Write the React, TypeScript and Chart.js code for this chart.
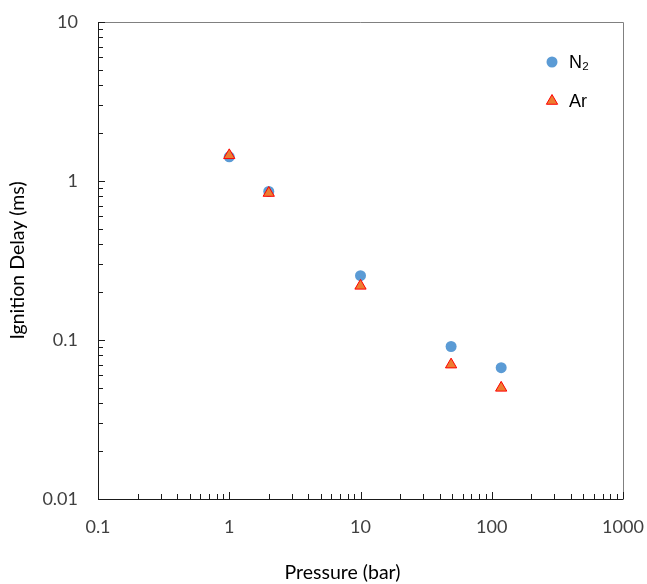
import { useEffect, useRef } from 'react';
import { Chart, registerables } from 'chart.js';

Chart.register(...registerables);

const pressureN2 = [1, 2, 10, 49, 118];
const delayN2 = [1.42, 0.86, 0.254, 0.091, 0.067];
const pressureAr = [1, 2, 10, 49, 118];
const delayAr = [1.45, 0.84, 0.219, 0.07, 0.05];
const xTickValues = [0.1, 1, 10, 100, 1000];
const xTickLabels = ['0.1', '1', '10', '100', '1000'];
const yTickValues = [0.01, 0.1, 1, 10];
const yTickLabels = ['0.01', '0.1', '1', '10'];
const seriesNames = ['N₂', 'Ar'];
const xTitle = 'Pressure (bar)';
const yTitle = 'Ignition Delay (ms)';

const N2_COLOR = '#5B9BD5';
const AR_FILL = '#ED7D31';
const AR_BORDER = '#FF0000';
const FAMILY = 'Lato, "Open Sans", sans-serif';
const TICK_FONT = { family: FAMILY, size: 18 };
const TITLE_FONT = { family: FAMILY, size: 19.5 };

function minorValues(min: number, max: number) {
  const out: { v: number; major: boolean }[] = [];
  for (let e = Math.floor(Math.log10(min)); e <= Math.ceil(Math.log10(max)); e++) {
    for (let k = 1; k <= 9; k++) {
      const v = k * Math.pow(10, e);
      if (v >= min * 0.9999 && v <= max * 1.0001) out.push({ v, major: k === 1 });
    }
  }
  return out;
}

const framePlugin = {
  id: 'frame',
  afterDatasetsDraw(chart: any) {
    const { ctx, chartArea: a, scales } = chart;
    ctx.save();
    // top / right frame
    ctx.strokeStyle = '#808080';
    ctx.lineWidth = 1;
    ctx.beginPath();
    ctx.moveTo(a.left, a.top + 0.5);
    ctx.lineTo(a.right + 0.5, a.top + 0.5);
    ctx.lineTo(a.right + 0.5, a.bottom);
    ctx.stroke();
    // axes
    ctx.strokeStyle = '#1a1a1a';
    ctx.beginPath();
    ctx.moveTo(a.left + 0.5, a.top);
    ctx.lineTo(a.left + 0.5, a.bottom + 0.5);
    ctx.lineTo(a.right + 0.5, a.bottom + 0.5);
    ctx.stroke();
    // inward ticks
    const xs = scales.x;
    const ys = scales.y;
    ctx.beginPath();
    for (const t of minorValues(xs.min, xs.max)) {
      const px = Math.round(xs.getPixelForValue(t.v)) + 0.5;
      const len = t.major ? 7 : 5;
      ctx.moveTo(px, a.bottom);
      ctx.lineTo(px, a.bottom - len);
    }
    for (const t of minorValues(ys.min, ys.max)) {
      const py = Math.round(ys.getPixelForValue(t.v)) + 0.5;
      const len = t.major ? 7 : 5;
      ctx.moveTo(a.left, py);
      ctx.lineTo(a.left + len, py);
    }
    ctx.stroke();

    // x axis title
    ctx.fillStyle = '#000';
    ctx.font = `${TITLE_FONT.size}px ${TITLE_FONT.family}`;
    ctx.textAlign = 'center';
    ctx.textBaseline = 'middle';
    ctx.fillText(xTitle, (a.left + a.right) / 2 - 18, 573);

    // legend
    const lx = a.right - 71;
    const rows = [a.top + 40, a.top + 79];
    ctx.font = '18px "Liberation Sans", Arial, sans-serif';
    ctx.textAlign = 'left';
    chart.data.datasets.forEach((ds: any, i: number) => {
      const y = rows[i];
      ctx.fillStyle = ds.backgroundColor;
      ctx.strokeStyle = ds.borderColor;
      ctx.lineWidth = ds.borderWidth;
      ctx.beginPath();
      if (ds.pointStyle === 'triangle') {
        const r = ds.pointRadius;
        for (let j = 0; j < 3; j++) {
          const ang = (j * 2 * Math.PI) / 3;
          const px = lx + Math.sin(ang) * r;
          const py = y - Math.cos(ang) * r;
          if (j === 0) ctx.moveTo(px, py); else ctx.lineTo(px, py);
        }
        ctx.closePath();
      } else {
        ctx.arc(lx, y, ds.pointRadius, 0, Math.PI * 2);
      }
      ctx.fill();
      if (ds.borderWidth) ctx.stroke();
      ctx.fillStyle = '#000';
      ctx.fillText(ds.label, lx + 17, y + 1);
    });
    ctx.restore();
  },
};

export default function App() {
  const ref = useRef<HTMLCanvasElement>(null);
  useEffect(() => {
    if (!ref.current) return;
    const chart = new Chart(ref.current, {
      type: 'scatter',
      data: {
        datasets: [
          {
            label: seriesNames[0],
            data: pressureN2.map((x, i) => ({ x, y: delayN2[i] })),
            pointStyle: 'circle',
            pointRadius: 5.5,
            backgroundColor: N2_COLOR,
            borderColor: N2_COLOR,
            borderWidth: 0,
            order: 1,
          },
          {
            label: seriesNames[1],
            data: pressureAr.map((x, i) => ({ x, y: delayAr[i] })),
            pointStyle: 'triangle',
            pointRadius: 6.5,
            backgroundColor: AR_FILL,
            borderColor: AR_BORDER,
            borderWidth: 1,
            order: 0,
          },
        ],
      },
      options: {
        responsive: false,
        animation: false,
        layout: { padding: { top: 22, right: 24, left: 0, bottom: 0 } },
        plugins: { legend: { display: false }, tooltip: { enabled: false } },
        scales: {
          x: {
            type: 'logarithmic',
            min: 0.1,
            max: 1000,
            grid: { display: false, drawTicks: false },
            border: { display: false },
            afterBuildTicks: (s: any) => {
              s.ticks = xTickValues.map((v) => ({ value: v, major: true }));
            },
            afterFit: (s: any) => {
              s.height = 85;
              s.paddingLeft = 0;
              s.paddingRight = 0;
            },
            ticks: {
              autoSkip: false,
              maxRotation: 0,
              padding: 17,
              color: '#404040',
              font: TICK_FONT,
              callback: (v: any) => xTickLabels[xTickValues.indexOf(Number(v))] ?? '',
            },
          },
          y: {
            type: 'logarithmic',
            min: 0.01,
            max: 10,
            grid: { display: false, drawTicks: false },
            border: { display: false },
            afterBuildTicks: (s: any) => {
              s.ticks = yTickValues.map((v) => ({ value: v, major: true }));
            },
            afterFit: (s: any) => {
              s.width = 98;
              s.paddingTop = 0;
              s.paddingBottom = 0;
            },
            title: {
              display: true,
              text: yTitle,
              color: '#000',
              font: TITLE_FONT,
              padding: { top: 6, bottom: 0 },
            },
            ticks: {
              autoSkip: false,
              padding: 20,
              color: '#404040',
              font: TICK_FONT,
              callback: (v: any) => yTickLabels[yTickValues.indexOf(Number(v))] ?? '',
            },
          },
        },
      },
      plugins: [framePlugin],
    });
    return () => chart.destroy();
  }, []);
  return (
    <div style={{ position: 'fixed', left: 0, top: 0, width: 647, height: 584, background: '#fff' }}>
      <canvas ref={ref} width={647} height={584} style={{ display: 'block' }} />
    </div>
  );
}
